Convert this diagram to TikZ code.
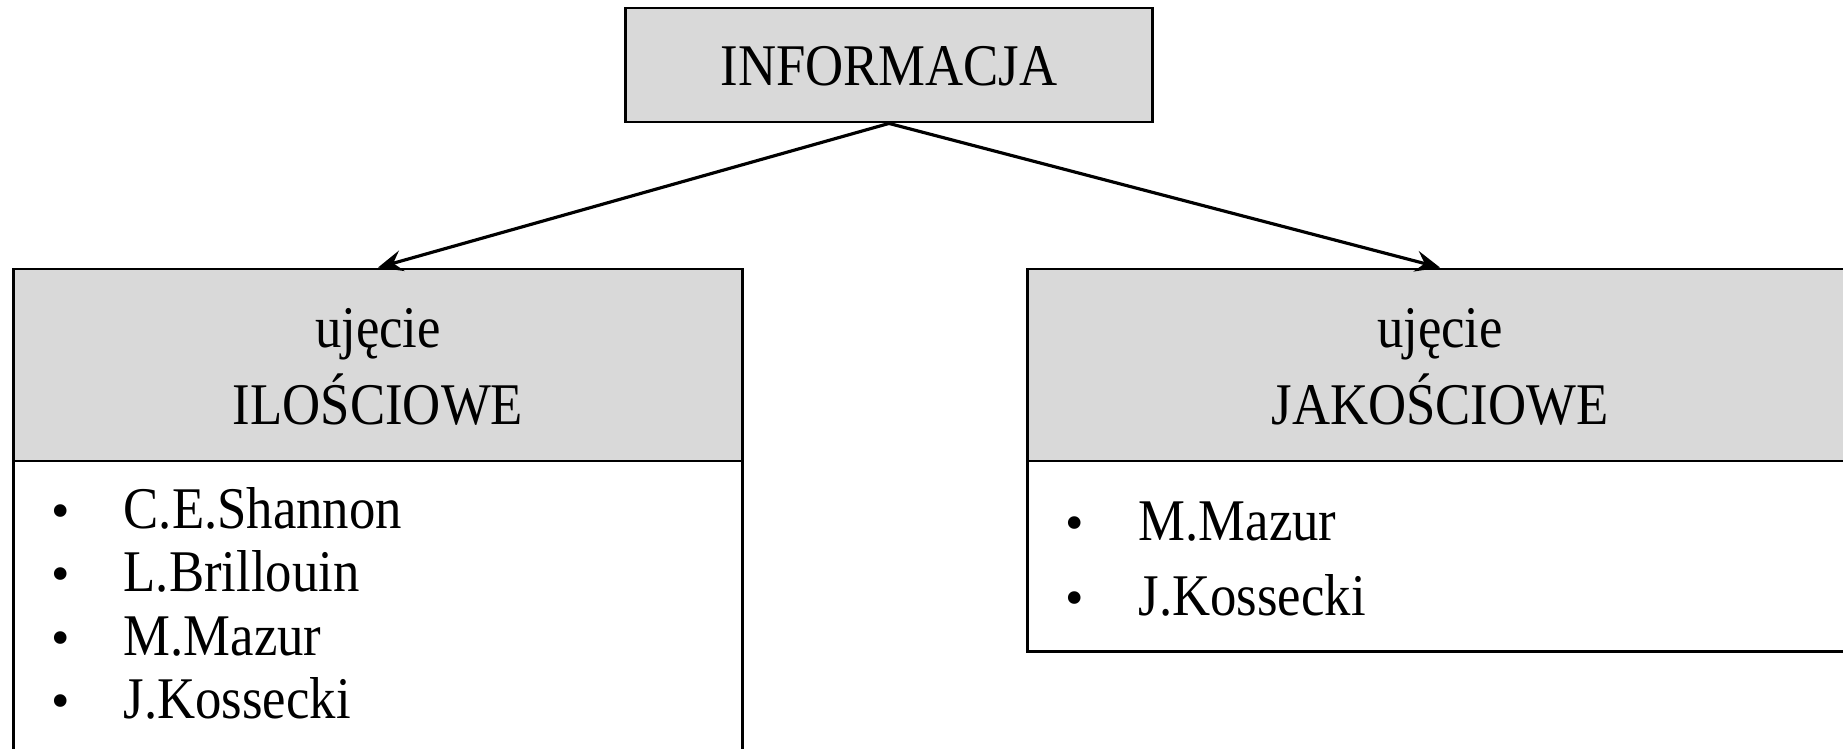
\documentclass[tikz,border=0pt]{standalone}
\usepackage{fontspec}
\setmainfont{Liberation Serif}
\usetikzlibrary{arrows.meta,positioning}
\newcommand{\tallt}[1]{\scalebox{1}[1.12]{#1}}
\tikzset{
  graybox/.style={draw, line width=0.8pt, fill=black!15, inner sep=0pt},
  whitebox/.style={draw, line width=0.8pt, fill=white, inner sep=0pt},
  txt/.style={inner sep=0pt, anchor=base, font=\fontsize{15}{18}\selectfont},
  entry/.style={txt, anchor=base west},
  dot/.style={txt},
  arrow/.style={line width=0.9pt, -{Stealth[length=7pt, width=6pt, inset=2.5pt]}}
}

\begin{document}
\begin{tikzpicture}[x=0.01cm,y=-0.01cm]
\useasboundingbox (0,0) rectangle (1843,749);
\clip (0,0) rectangle (1843,749);
% top box
\node[graybox, minimum width=5.26cm, minimum height=1.14cm] (info) at (889,65) {};
\node[txt] (infoText) at (889,86) {\tallt{INFORMACJA}};
% left hand
\node[graybox, minimum width=7.28cm, minimum height=1.92cm] (iloHead) at (378,365) {};
\node[whitebox, minimum width=7.28cm, minimum height=3.4cm, below=-0.8pt of iloHead] (iloBody) {};
\node[txt] (iloA) at (378,348) {\tallt{ujęcie}};
\node[txt] (iloB) at (378,425) {\tallt{ILOŚCIOWE}};
\node[dot] (iloDot1) at (61,528) {\textbullet};
\node[entry] (ilo1) at (123,528) {\tallt{C.E.Shannon}};
\node[dot] (iloDot2) at (61,591) {\textbullet};
\node[entry] (ilo2) at (123,591) {\tallt{L.Brillouin}};
\node[dot] (iloDot3) at (61,655) {\textbullet};
\node[entry] (ilo3) at (123,655) {\tallt{M.Mazur}};
\node[dot] (iloDot4) at (61,718) {\textbullet};
\node[entry] (ilo4) at (123,718) {\tallt{J.Kossecki}};
% right hand
\node[graybox, minimum width=8.24cm, minimum height=1.92cm] (jakHead) at (1440,365) {};
\node[whitebox, minimum width=8.24cm, minimum height=1.9cm, below=-0.8pt of jakHead] (jakBody) {};
\node[txt] (jakA) at (1440,348) {\tallt{ujęcie}};
\node[txt] (jakB) at (1440,425) {\tallt{JAKOŚCIOWE}};
\node[dot] (jakDot1) at (1075,540) {\textbullet};
\node[entry] (jak1) at (1138,540) {\tallt{M.Mazur}};
\node[dot] (jakDot2) at (1075,615) {\textbullet};
\node[entry] (jak2) at (1138,615) {\tallt{J.Kossecki}};
% arrows
\draw[arrow] (info.south) -- (iloHead.north);
\draw[arrow] (info.south) -- (jakHead.north);
\end{tikzpicture}
\end{document}
